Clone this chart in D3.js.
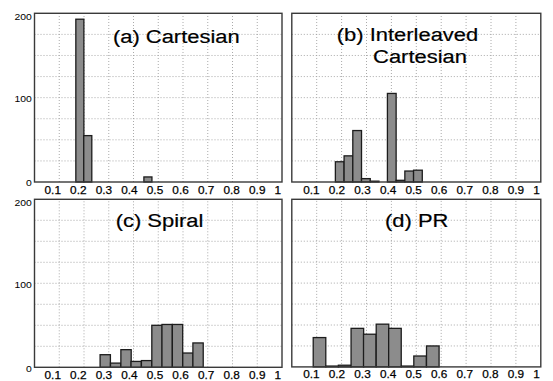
<!DOCTYPE html>
<html>
<head>
<meta charset="utf-8">
<script src="https://cdn.jsdelivr.net/npm/d3@7"></script>
<style>
  html, body { margin: 0; padding: 0; background: #fff; }
  svg { display: block; font-family: "Liberation Sans", Arial, sans-serif; }
</style>
</head>
<body>
<div id="root"></div>
<script>
const WIDTH = 553
const HEIGHT = 381

// histogram data: left edge of each bin, bin width, count
const binStartsA = [0.167, 0.199, 0.442]
const binWidthA = 0.0325
const countsA = [193, 55, 6]

const binStartsB = [0.175, 0.210, 0.245, 0.280, 0.315, 0.349, 0.384, 0.419, 0.454, 0.489]
const binWidthB = 0.035
const countsB = [24, 31, 61, 4, 1, 0, 105, 2, 13, 14]

const binStartsC = [0.265, 0.307, 0.349, 0.390, 0.432, 0.474, 0.515, 0.557, 0.599, 0.640]
const binWidthC = 0.0417
const countsC = [15, 5, 21, 7, 8, 50, 51, 51, 17, 29]

const binStartsD = [0.086, 0.137, 0.187, 0.238, 0.288, 0.339, 0.389, 0.440, 0.490, 0.541]
const binWidthD = 0.0505
const countsD = [35, 1, 2, 46, 39, 51, 46, 1, 13, 25]

const titles = [['(a) Cartesian'], ['(b) Interleaved', 'Cartesian'], ['(c) Spiral'], ['(d) PR']]

const xTickValues = [0.1, 0.2, 0.3, 0.4, 0.5, 0.6, 0.7, 0.8, 0.9, 1]
const xGridValues = [0.1, 0.2, 0.3, 0.4, 0.5, 0.6, 0.7, 0.8, 0.9]
const yTickValues = [0, 100, 200]
const yGridValues = [25, 50, 75, 100, 125, 150, 175]
const Y_MAX = 200

// panel boxes in pixels
const panels = [
  { x0: 34.5, y0: 13.3, w: 247.5, h: 168.7, starts: binStartsA, bw: binWidthA, counts: countsA, title: titles[0], titlePos: [[176.3, 42.7]], yLabels: true },
  { x0: 291.8, y0: 13.3, w: 249, h: 168.7, starts: binStartsB, bw: binWidthB, counts: countsB, title: titles[1], titlePos: [[407.5, 40.7], [420, 63.3]], yLabels: false },
  { x0: 34.5, y0: 199.3, w: 247.5, h: 168, starts: binStartsC, bw: binWidthC, counts: countsC, title: titles[2], titlePos: [[159.5, 226.7]], yLabels: true },
  { x0: 291.8, y0: 199.3, w: 249, h: 167.6, starts: binStartsD, bw: binWidthD, counts: countsD, title: titles[3], titlePos: [[416.7, 226.7]], yLabels: false }
]

const TITLE_SIZE = 19
const TITLE_STRETCH = 1.155

const svg = d3.select('#root')
  .append('svg')
  .attr('width', WIDTH)
  .attr('height', HEIGHT)

panels.forEach((p) => {
  const x = d3.scaleLinear().domain([0, 1]).range([p.x0, p.x0 + p.w])
  const y = d3.scaleLinear().domain([0, Y_MAX]).range([p.y0 + p.h, p.y0])

  // tick labels sit on a slightly wider spacing than the grid
  const labelX = d3.scaleLinear()
    .domain([0.1, 0.9, 1])
    .range([x(0.9) - 204.5, x(0.9), x(1) - 4.3])

  const g = svg.append('g')

  // dotted grid
  g.selectAll('.vgrid')
    .data(xGridValues)
    .enter()
    .append('line')
    .attr('x1', d => x(d))
    .attr('x2', d => x(d))
    .attr('y1', y(0))
    .attr('y2', y(Y_MAX))
    .attr('stroke', '#a0a0a0')
    .attr('stroke-width', 0.9)
    .attr('stroke-dasharray', '1,2')

  g.selectAll('.hgrid')
    .data(yGridValues)
    .enter()
    .append('line')
    .attr('x1', x(0))
    .attr('x2', x(1))
    .attr('y1', d => y(d))
    .attr('y2', d => y(d))
    .attr('stroke', '#a0a0a0')
    .attr('stroke-width', 0.9)
    .attr('stroke-dasharray', '1,2')

  // bars
  g.selectAll('.bar')
    .data(p.counts.map((c, i) => ({ start: p.starts[i], count: c })))
    .enter()
    .append('rect')
    .attr('x', d => x(d.start))
    .attr('width', d => x(d.start + p.bw) - x(d.start))
    .attr('y', d => y(d.count))
    .attr('height', d => y(0) - y(d.count))
    .attr('fill', '#8c8c8c')
    .attr('stroke', '#1c1c1c')
    .attr('stroke-width', 1.3)

  // frame
  g.append('rect')
    .attr('x', x(0))
    .attr('y', y(Y_MAX))
    .attr('width', x(1) - x(0))
    .attr('height', y(0) - y(Y_MAX))
    .attr('fill', 'none')
    .attr('stroke', '#3a3a3a')
    .attr('stroke-width', 1.4)

  // x tick labels
  g.selectAll('.xlabel')
    .data(xTickValues)
    .enter()
    .append('text')
    .attr('x', d => labelX(d))
    .attr('y', y(0) + 11.5)
    .attr('text-anchor', 'middle')
    .attr('font-size', 11.8)
    .attr('fill', '#000')
    .attr('stroke', '#000')
    .attr('stroke-width', 0.25)
    .text(d => d3.format('')(d))

  // y tick labels
  if (p.yLabels) {
    g.selectAll('.ylabel')
      .data(yTickValues)
      .enter()
      .append('text')
      .attr('transform', d => `translate(31.8, ${Math.max(y(d) + 4.3, p.y0 + 6.7)}) scale(${TITLE_STRETCH}, 1)`)
      .attr('text-anchor', 'end')
      .attr('font-size', 9)
      .attr('fill', '#000')
      .text(d => d)
  }

  // title
  g.selectAll('.title')
    .data(p.title)
    .enter()
    .append('text')
    .attr('transform', (_, i) => `translate(${p.titlePos[i][0]}, ${p.titlePos[i][1]}) scale(${TITLE_STRETCH}, 1)`)
    .attr('text-anchor', 'middle')
    .attr('font-size', TITLE_SIZE)
    .attr('fill', '#000')
    .attr('stroke', '#000')
    .attr('stroke-width', 0.2)
    .text(d => d)
})
</script>
</body>
</html>
